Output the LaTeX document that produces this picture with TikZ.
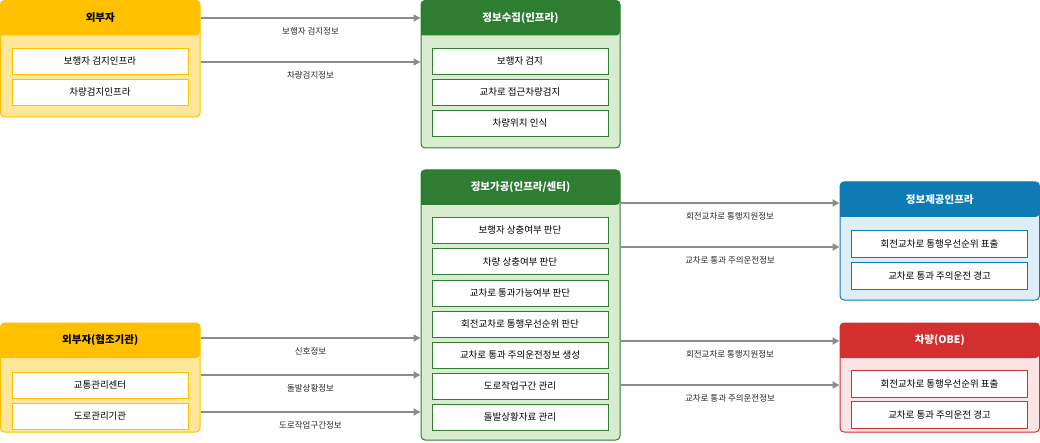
\documentclass[tikz,border=0pt]{standalone}
\usepackage{fontspec}
\setmainfont{Noto Sans CJK KR}
\usetikzlibrary{positioning, arrows.meta}

\definecolor{ylwHead}{HTML}{FFC000}
\definecolor{ylwBody}{HTML}{FFE799}
\definecolor{grnHead}{HTML}{2E7D32}
\definecolor{grnBody}{HTML}{D8EDCF}
\definecolor{bluHead}{HTML}{0E7BB5}
\definecolor{bluBody}{HTML}{DEEEF8}
\definecolor{redHead}{HTML}{D32F2F}
\definecolor{redBody}{HTML}{FCE4E4}
\definecolor{arrowGray}{HTML}{8C8C8C}

% group box: name, x1, y1, x2, y2, head colour, body colour, title
\newcommand{\grpbox}[8]{%
    \node[group, fill=#7, draw=#6, minimum width={(#4-#2)*1pt}, minimum height={(#5-#3)*1pt}]
        (#1) at ({(#2+#4)/2},{(#3+#5)/2}) {};
    \fill[#6, rounded corners=4pt] (#2,#3+35) -- (#2,#3) -- (#4,#3) -- (#4,#3+35) [sharp corners] -- cycle;
    \node[head] (#1-head) at ({(#2+#4)/2},#3+17.5) {#8};
}

\begin{document}
\begin{tikzpicture}[
    x=1pt, y=-1pt,
    font=\fontsize{9.5pt}{11pt}\selectfont,
    >={Triangle[length=7pt, width=7pt]},
    % Styles
    group/.style={% outer box of a group
        rectangle,
        rounded corners=4pt,
        line width=1pt,
        inner sep=0pt,
        },
    head/.style={% group title
        text=white,
        font=\fontsize{10.5pt}{12pt}\selectfont\bfseries,
        },
    item/.style={% white entry box
        rectangle,
        draw,
        fill=white,
        line width=0.9pt,
        minimum width=176pt,
        minimum height=26pt,
        inner sep=0pt,
        },
    flow/.style={% gray connectors
        ->,
        draw=arrowGray,
        color=arrowGray,
        line width=2pt,
        },
    flowlabel/.style={%
        font=\fontsize{8.5pt}{10pt}\selectfont,
        text=black!85,
        },
    ]
\useasboundingbox (0,0) rectangle (1040,443);

    % Groups
    \grpbox{ext}{0.5}{0.5}{200}{117}{ylwHead}{ylwBody}{\textcolor{black}{외부자}}
    \grpbox{col}{421}{0.5}{620}{148}{grnHead}{grnBody}{정보수집(인프라)}
    \grpbox{proc}{421}{170}{620}{440}{grnHead}{grnBody}{정보가공(인프라/센터)}
    \grpbox{prov}{840}{182}{1039.5}{300}{bluHead}{bluBody}{정보제공인프라}
    \grpbox{obe}{840}{323}{1039.5}{432}{redHead}{redBody}{차량(OBE)}
    \grpbox{coop}{0.5}{323}{200}{432}{ylwHead}{ylwBody}{\textcolor{black}{외부자(협조기관)}}

    % Entries
    \node[item, draw=ylwHead] (ext1) at (100,61) {보행자 검지인프라};
    \node[item, draw=ylwHead] (ext2) at (100,92) {차량검지인프라};

    \node[item, draw=grnHead] (col1) at (520,61) {보행자 검지};
    \node[item, draw=grnHead] (col2) at (520,92) {교차로 접근차량검지};
    \node[item, draw=grnHead] (col3) at (520,123) {차량위치 인식};

    \node[item, draw=grnHead] (proc1) at (520,230) {보행자 상충여부 판단};
    \node[item, draw=grnHead] (proc2) at (520,261.5) {차량 상충여부 판단};
    \node[item, draw=grnHead] (proc3) at (520,293) {교차로 통과가능여부 판단};
    \node[item, draw=grnHead] (proc4) at (520,324) {회전교차로 통행우선순위 판단};
    \node[item, draw=grnHead] (proc5) at (520,355) {교차로 통과 주의운전정보 생성};
    \node[item, draw=grnHead] (proc6) at (520,386) {도로작업구간 관리};
    \node[item, draw=grnHead] (proc7) at (520,417) {돌발상황자료 관리};

    \node[item, draw=bluHead, minimum height=27pt] (prov1) at (939.5,243.5) {회전교차로 통행우선순위 표출};
    \node[item, draw=bluHead, minimum height=27pt] (prov2) at (939.5,275.5) {교차로 통과 주의운전 경고};

    \node[item, draw=redHead, minimum height=27pt] (obe1) at (939.5,383.5) {회전교차로 통행우선순위 표출};
    \node[item, draw=redHead, minimum height=27pt] (obe2) at (939.5,415) {교차로 통과 주의운전 경고};

    \node[item, draw=ylwHead] (coop1) at (100,385) {교통관리센터};
    \node[item, draw=ylwHead] (coop2) at (100,416) {도로관리기관};

    % Connectors
    \draw[flow] (ext.east |- 0,18) -- (col.west |- 0,18)
        node[flowlabel, midway, below=5pt] {보행자 검지정보};
    \draw[flow] (ext.east |- 0,62) -- (col.west |- 0,62)
        node[flowlabel, midway, below=5pt] {차량검지정보};

    \draw[flow] (proc.east |- 0,203) -- (prov.west |- 0,203)
        node[flowlabel, midway, below=5pt] {회전교차로 통행지원정보};
    \draw[flow] (proc.east |- 0,247) -- (prov.west |- 0,247)
        node[flowlabel, midway, below=5pt] {교차로 통과 주의운전정보};
    \draw[flow] (proc.east |- 0,341) -- (obe.west |- 0,341)
        node[flowlabel, midway, below=5pt] {회전교차로 통행지원정보};
    \draw[flow] (proc.east |- 0,385) -- (obe.west |- 0,385)
        node[flowlabel, midway, below=5pt] {교차로 통과 주의운전정보};

    \draw[flow] (coop.east |- 0,338) -- (proc.west |- 0,338)
        node[flowlabel, midway, below=5pt] {신호정보};
    \draw[flow] (coop.east |- 0,375) -- (proc.west |- 0,375)
        node[flowlabel, midway, below=5pt] {돌발상황정보};
    \draw[flow] (coop.east |- 0,412) -- (proc.west |- 0,412)
        node[flowlabel, midway, below=5pt] {도로작업구간정보};

\end{tikzpicture}
\end{document}
